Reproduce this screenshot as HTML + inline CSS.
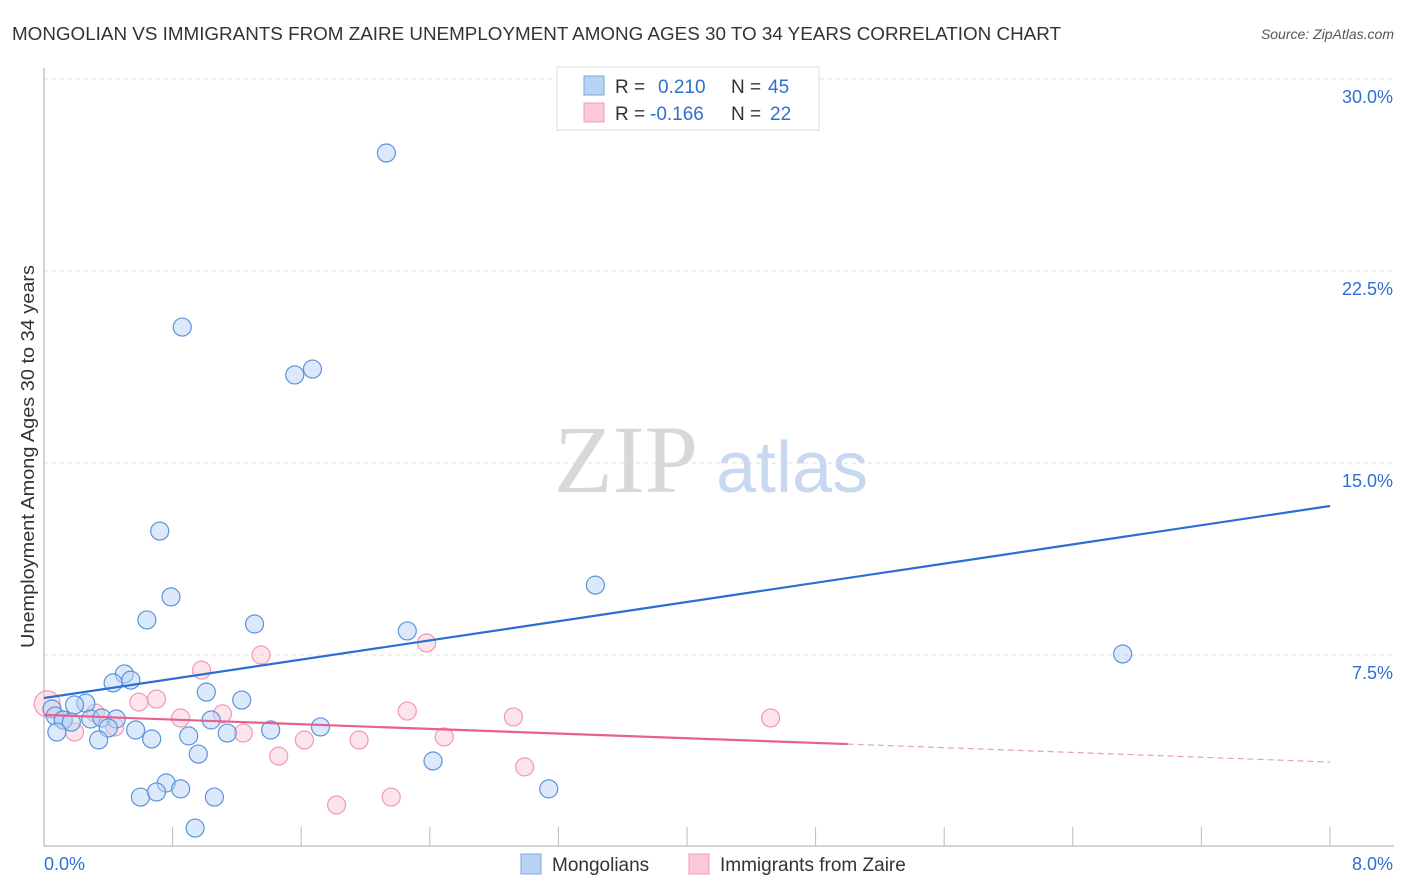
<!DOCTYPE html>
<html><head><meta charset="utf-8"><style>
body{margin:0;background:#fff;font-family:"Liberation Sans",sans-serif;}
#c{position:absolute;left:0;top:0;}
</style></head><body>
<svg id="c" width="1406" height="892" xmlns="http://www.w3.org/2000/svg">
<text x="12" y="40" font-size="18" fill="#333" textLength="1049" lengthAdjust="spacingAndGlyphs">MONGOLIAN VS IMMIGRANTS FROM ZAIRE UNEMPLOYMENT AMONG AGES 30 TO 34 YEARS CORRELATION CHART</text>
<text x="1394" y="39" font-size="14" fill="#555" font-style="italic" text-anchor="end">Source: ZipAtlas.com</text>
<text transform="translate(34,648) rotate(-90)" font-size="18" fill="#333" textLength="383" lengthAdjust="spacingAndGlyphs">Unemployment Among Ages 30 to 34 years</text>
<text x="554" y="492" font-size="96" fill="#d8d8d8" font-family="Liberation Serif,serif">ZIP</text>
<text x="716" y="492" font-size="72" fill="#c8d8f0">atlas</text>
<g id="grid"></g><g id="marks"></g>
<g>
<rect x="557" y="67" width="262" height="63" fill="#fff" stroke="#ddd"/>
<rect x="584" y="76" width="20" height="19" fill="#b8d4f5" stroke="#7aa7e0"/>
<rect x="584" y="103" width="20" height="19" fill="#fcc8d6" stroke="#f09ab4"/>
<text x="615" y="93" font-size="19" fill="#333">R = </text><text x="658" y="93" font-size="19" fill="#2f6fd0">0.210</text>
<text x="731" y="93" font-size="19" fill="#333">N = </text><text x="768" y="93" font-size="19" fill="#2f6fd0">45</text>
<text x="615" y="120" font-size="19" fill="#333">R = </text><text x="650" y="120" font-size="19" fill="#2f6fd0">-0.166</text>
<text x="731" y="120" font-size="19" fill="#333">N = </text><text x="770" y="120" font-size="19" fill="#2f6fd0">22</text>
</g>
<g>
<rect x="521" y="854" width="20" height="20" fill="#b8d4f5" stroke="#7aa7e0"/>
<text x="552" y="871" font-size="19" fill="#333">Mongolians</text>
<rect x="689" y="854" width="20" height="20" fill="#fcc8d6" stroke="#f09ab4"/>
<text x="720" y="871" font-size="19" fill="#333">Immigrants from Zaire</text>
</g>
</svg>
<script>
const yTicks=[7.5,15,22.5,30];
const yTickLabels=["7.5%","15.0%","22.5%","30.0%"];
const blueX=[2.13,0.86,1.56,1.67,0.72,3.43,0.79,0.64,1.31,2.26,6.71,0.50,0.43,0.54,1.01,1.23,0.26,0.19,0.05,0.07,0.12,0.29,0.36,0.45,0.12,0.17,0.40,0.57,1.04,1.41,1.72,0.08,0.34,0.67,0.90,1.14,0.96,2.42,0.76,0.60,0.70,0.85,1.06,3.14,0.94];
const blueY=[27.11,20.31,18.44,18.67,12.34,10.23,9.77,8.87,8.71,8.44,7.54,6.76,6.41,6.52,6.05,5.74,5.62,5.55,5.39,5.12,4.96,5.00,5.04,5.00,4.96,4.88,4.65,4.57,4.96,4.57,4.69,4.49,4.18,4.22,4.34,4.45,3.63,3.36,2.50,1.95,2.15,2.27,1.95,2.27,0.74];
const pinkX=[0.02,0.98,1.35,2.38,0.70,0.59,0.32,0.85,1.11,0.44,0.19,1.24,2.26,2.92,4.52,1.62,1.96,2.49,1.46,2.99,2.16,1.82];
const pinkY=[5.59,6.91,7.50,7.97,5.78,5.66,5.23,5.04,5.20,4.69,4.49,4.45,5.31,5.08,5.04,4.18,4.18,4.30,3.55,3.13,1.95,1.64];
const blueTrend=[5.82,13.32];
const pinkTrend=[5.16,4.02,3.32];
const pinkSolidEnd=5.0;
const NS="http://www.w3.org/2000/svg";
const X=v=>44+v/8*1286, Y=v=>847-v/7.5*192;
const grid=document.getElementById('grid'), marks=document.getElementById('marks');
function mk(p,tag,a){const e=document.createElementNS(NS,tag);for(const k in a)e.setAttribute(k,a[k]);p.appendChild(e);return e;}
yTicks.forEach((t,i)=>{
 const l=mk(grid,'line',{x1:44,x2:1394,y1:Y(t),y2:Y(t),stroke:'#ddd','stroke-dasharray':'4,4'});
 
 
 const tx=mk(grid,'text',{x:1393,y:Y(t)+24,'font-size':18,fill:'#2f6fd0','text-anchor':'end'});
 tx.textContent=yTickLabels[i];
 
 
});
const ax=mk(grid,'line',{x1:44,x2:44,y1:68,y2:846,stroke:'#aaa'});


const bx=mk(grid,'line',{x1:44,x2:1394,y1:846,y2:846,stroke:'#aaa'});


for(let i=1;i<=10;i++){const t=mk(grid,'line',{x1:X(i*0.8),x2:X(i*0.8),y1:827,y2:846,stroke:'#bbb'});
 
 }
[["0.0%",44,'start'],["8.0%",1393,'end']].forEach(([s,x,a])=>{const t=mk(grid,'text',{x:x,y:870,'font-size':18,fill:'#2f6fd0','text-anchor':a});t.textContent=s;
 
 });
function pts(xs,ys,fill,stroke,name){xs.forEach((x,i)=>{const r=(i==0&&name=='pink-point')?13:9;
 const c=mk(marks,'circle',{cx:X(x),cy:Y(ys[i]),r:r,fill:fill,'fill-opacity':0.5,stroke:stroke,'stroke-width':1.2});
 
 });}
pts(pinkX,pinkY,'#fcc8d6','#f09ab4','pink-point');
pts(blueX,blueY,'#b8d4f5','#5b93dc','blue-point');
const bl=mk(marks,'line',{x1:X(0),y1:Y(blueTrend[0]),x2:X(8),y2:Y(blueTrend[1]),stroke:'#2a6fd6','stroke-width':2.2});


const pl=mk(marks,'line',{x1:X(0),y1:Y(pinkTrend[0]),x2:X(pinkSolidEnd),y2:Y(pinkTrend[1]),stroke:'#e8608e','stroke-width':2.2});


const pd=mk(marks,'line',{x1:X(pinkSolidEnd),y1:Y(pinkTrend[1]),x2:X(8),y2:Y(pinkTrend[2]),stroke:'#e8a0b8','stroke-width':1.2,'stroke-dasharray':'6,4'});


</script>
</body></html>
